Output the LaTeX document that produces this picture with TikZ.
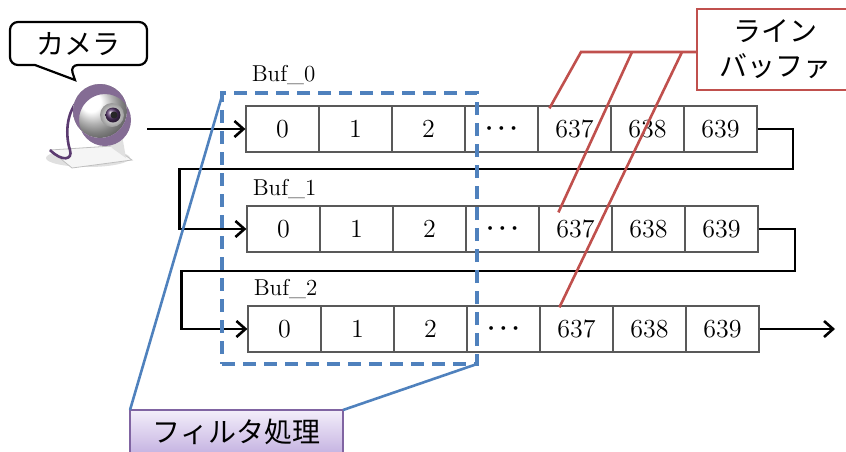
\documentclass[tikz,border=0pt]{standalone}
\usepackage{fontspec}
\newfontfamily\jp{Noto Sans CJK JP}
\usetikzlibrary{arrows.meta}

\definecolor{fblue}{HTML}{4F81BD}
\definecolor{lred}{HTML}{C0504D}
\definecolor{fpurple}{HTML}{8064A2}
\definecolor{ftop}{HTML}{F3EEFA}
\definecolor{fbottom}{HTML}{C6B4E2}
\definecolor{campurple}{HTML}{5B3B70}

\begin{document}
\begin{tikzpicture}[x=0.5pt,y=-0.5pt,
  cell/.style={draw=black!65, line width=0.6pt, minimum width=36.5pt,
    minimum height=23pt, inner sep=0pt, font=\fontsize{13}{15}\selectfont},
  buflab/.style={inner sep=0pt, font=\fontsize{11.5}{13}\selectfont},
  flow/.style={line width=1.3pt, -{Straight Barb[length=4.5pt,width=8pt]}},
  areabox/.style={draw=fblue, line width=1.6pt, dash pattern=on 6.5pt off 4pt,
    minimum width=127.5pt, minimum height=135.5pt, inner sep=0pt, outer sep=0pt},
  filtlab/.style={draw=fpurple, line width=0.6pt, top color=ftop,
    bottom color=fbottom, minimum width=106.5pt, minimum height=21.5pt,
    inner sep=0pt, outer sep=0pt, font=\jp\fontsize{14}{16}\selectfont},
  lbufbox/.style={draw=lred, line width=1.2pt, fill=white, minimum width=78pt,
    minimum height=40.5pt, align=center, outer sep=0pt,
    font=\jp\fontsize{14}{17.5}\selectfont},
  leader/.style={lred, line width=1.3pt},
  bubble/.style={draw=black, line width=1.1pt, fill=white}]

\useasboundingbox (0,0) rectangle (846,451);

% speech bubble over the camera
\draw[bubble] (35,65) [rounded corners=4pt] -- (10,65) -- (10,22) -- (147,22)
    -- (147,65) -- (70,65) [sharp corners] -- (75,80) -- cycle;
\node[font=\jp\fontsize{14}{16}\selectfont] (camlab) at (78,44) {カメラ};

% web camera
\fill[black!12] (88,158) ellipse (42 and 9);
\filldraw[fill=black!4, draw=black!25] (50,150) -- (112,146) -- (132,160)
    -- (72,168) -- cycle;
\fill[black!12] (92,110) -- (118,112) -- (126,158) -- (112,148) -- cycle;
\draw[campurple, line width=1.3pt] (82,96) .. controls (64,112) and (66,138) .. (70,150)
    .. controls (73,160) and (62,162) .. (50,150);
\shade[ball color=white] (100,111) circle (27);
\fill[campurple!75, even odd rule] (100,111) circle (27) (105,120) circle (26);
\shade[inner color=white, outer color=black!40] (112,115) circle (12);
\shade[ball color=campurple] (113,115) circle (7.5);
\fill[black!85] (114,115) circle (3.5);

% line buffers
\foreach \r/\bs in {0/12,1/5,2/5}{
  \foreach \lab [count=\c from 0] in {0,1,2,{{\boldmath$\cdots$}},637,638,639}
    \node[cell] (r\r-\c) at ({282.5+\r+73*\c},{129+100*\r}) {\lab};
  \node[buflab, anchor=base west] (buf\r) at ([shift={(3pt,\bs pt)}]r\r-0.north west) {Buf\_\r};
}

% pixel flow through the buffers
\coordinate (camout) at (147,129);
\coordinate (out) at (835,329);
\draw[flow] (camout) -- (r0-0.west);
\draw[flow] (r0-6.east) -| (793,169) -| ([xshift=-33.5pt]r1-0.west) -- (r1-0.west);
\draw[flow] (r1-6.east) -| (795,271) -| ([xshift=-33pt]r2-0.west) -- (r2-0.west);
\draw[flow] (r2-6.east) -- (out);

% filter window
\node[areabox] (area) at (349.5,228.5) {};
\node[filtlab] (filt) at (236.5,431.5) {フィルタ処理};
\draw[fblue, line width=1.3pt] (filt.north west) -- ([yshift=-1.5pt]area.north west);
\draw[fblue, line width=1.3pt] (filt.north east) -- (area.south east);

% line buffer callout
\node[lbufbox] (lbuf) at (775,49.5) {ライン\\バッファ};
\coordinate (k1) at (581,52);
\coordinate (k2) at (632,52);
\coordinate (k3) at (682,52);
\draw[leader] (lbuf.west |- k1) -- (k1) -- ([shift={(6pt,-1.5pt)}]r0-4.north west);
\draw[leader] (k2) -- ([shift={(10pt,-3.5pt)}]r1-4.north west);
\draw[leader] (k3) -- ([shift={(10pt,-1pt)}]r2-4.north west);

\end{tikzpicture}
\end{document}
